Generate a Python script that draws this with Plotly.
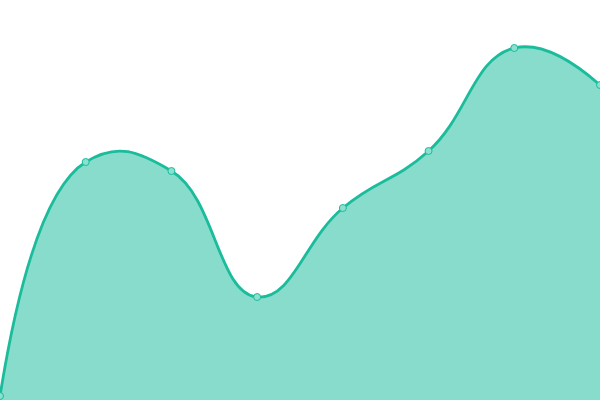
import plotly.graph_objects as go

# values (y axis 0..100 spans the full height)
steps = [0, 1, 2, 3, 4, 5, 6, 7]
values = [1, 59.5, 57.25, 25.75, 48, 62.25, 88, 78.75]

line_color = "#1abc9c"
fill_color = "rgba(26,188,156,0.52)"

fig = go.Figure(go.Scatter(
	x=steps,
	y=values,
	mode="lines+markers",
	line=dict(color=line_color, width=2.8, shape="spline", smoothing=1.3),
	fill="tozeroy",
	fillcolor=fill_color,
	marker=dict(size=7, color="#8ce0cf", line=dict(color=line_color, width=1)),
	cliponaxis=False,
	hoverinfo="x+y",
))

fig.update_layout(
	width=600,
	height=400,
	margin=dict(l=0, r=0, t=0, b=0),
	paper_bgcolor="white",
	plot_bgcolor="white",
	showlegend=False,
	xaxis=dict(range=[0, 7], visible=False, fixedrange=True),
	yaxis=dict(range=[0, 100], visible=False, fixedrange=True),
)

# drop the browser's default body margin so the chart sits flush at 0,0
fig.write_html("out.html", config={"displayModeBar": False},
	post_script="document.body.style.margin='0';")
